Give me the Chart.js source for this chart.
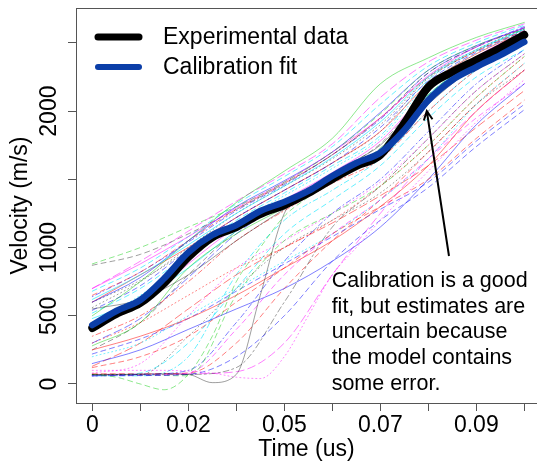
<!DOCTYPE html>
<html>
<head>
<meta charset="utf-8">
<script src="https://cdn.jsdelivr.net/npm/chart.js@4.4.1/dist/chart.umd.min.js"></script>
<style>
  html, body { margin: 0; padding: 0; background: #fff; overflow: hidden; }
  #wrap { width: 537px; height: 463px; }
</style>
</head>
<body>
<div id="wrap"><canvas id="chart" width="537" height="463"></canvas></div>
<script>
// time grids (us)
const timeFine = [0, 0.005625, 0.01125, 0.016875, 0.0225, 0.028125, 0.03375, 0.039375, 0.045, 0.050625,
  0.05625, 0.061875, 0.0675, 0.073125, 0.07875, 0.084375, 0.09, 0.095625, 0.10125];
const timeCoarse = [0, 0.01125, 0.0225, 0.03375, 0.045, 0.05625, 0.0675, 0.07875, 0.09, 0.10125];

// axis ticks
const xTicks = [0, 0.01125, 0.0225, 0.03375, 0.045, 0.05625, 0.0675, 0.07875, 0.09, 0.10125];
const xTickLabels = ["0", "", "0.02", "", "0.05", "", "0.07", "", "0.09", ""];
const yTicks = [0, 500, 1000, 1500, 2000, 2500];
const yTickLabels = ["0", "500", "1000", "", "2000", ""];

// main curves (fine grid, m/s)
const experimental = [410, 513, 594, 740, 930, 1075, 1150, 1246, 1312, 1400, 1503, 1598, 1678, 1910, 2177, 2287, 2375, 2463, 2558];
const calibration = [432, 535, 616, 775, 965, 1092, 1165, 1268, 1334, 1415, 1524, 1620, 1695, 1860, 2080, 2228, 2323, 2411, 2507];

// model runs (fine grid if 19 values, coarse grid if 10)
const sampleValues = [
  [70, 70, 72, 75, 70, 10, 70, 650, 1250, 1420, 1530, 1640, 1750, 1930, 2110, 2240, 2350, 2450, 2540],
  [70, 50, 0, -42, 70, 350, 750, 1000, 1230, 1370, 1500, 1610, 1730, 1920, 2120, 2260, 2380, 2480, 2570],
  [100, 100, 100, 100, 95, 80, 50, 40, 200, 500, 800, 1000, 1200, 1380, 1560, 1740, 1920, 2080, 2230],
  [60, 62, 70, 200, 500, 900, 1200, 1440, 1740, 2010],
  [120, 200, 350, 600, 850, 1100, 1300, 1500, 1800, 2080],
  [150, 250, 400, 550, 700, 900, 1150, 1500, 1900, 2200],
  [250, 350, 480, 650, 850, 1050, 1300, 1600, 2000, 2300],
  [200, 300, 500, 700, 900, 1100, 1350, 1650, 2050, 2350],
  [60, 65, 80, 400, 800, 1100, 1350, 1650, 1950, 2200],
  [70, 70, 350, 700, 1000, 1200, 1400, 1700, 2050, 2300],
  [300, 450, 650, 850, 1000, 1200, 1450, 1750, 2100, 2400],
  [65, 65, 60, 650, 1050, 1250, 1450, 1750, 2100, 2400],
  [60, 70, 100, 450, 900, 1250, 1500, 1850, 2200, 2450],
  [80, 150, 500, 850, 1050, 1250, 1480, 1800, 2150, 2420],
  [60, 80, 300, 700, 1100, 1350, 1600, 1950, 2250, 2450],
  [130, 300, 550, 800, 1000, 1180, 1380, 1600, 1880, 2150],
  [220, 330, 480, 680, 880, 1080, 1280, 1480, 1780, 2050],
  [550, 620, 800, 1050, 1280, 1480, 1680, 2050, 2330, 2520],
  [280, 450, 850, 1100, 1290, 1480, 1700, 2100, 2350, 2530],
  [480, 620, 850, 1120, 1320, 1520, 1720, 2120, 2370, 2560],
  [350, 500, 750, 1050, 1270, 1470, 1650, 2000, 2300, 2500],
  [300, 480, 780, 1100, 1330, 1520, 1720, 2080, 2360, 2550],
  [420, 580, 880, 1150, 1350, 1550, 1780, 2150, 2400, 2580],
  [250, 450, 800, 1120, 1340, 1540, 1760, 2150, 2390, 2570],
  [880, 1000, 1150, 1300, 1480, 1700, 1980, 2300, 2480, 2600],
  [700, 880, 1080, 1290, 1480, 1700, 1950, 2260, 2470, 2610],
  [620, 800, 1020, 1250, 1450, 1660, 1920, 2250, 2450, 2600],
  [600, 780, 1050, 1300, 1490, 1700, 1990, 2300, 2480, 2610],
  [870, 950, 1100, 1280, 1470, 1680, 1950, 2280, 2470, 2610],
  [500, 750, 1050, 1330, 1560, 1800, 2200, 2390, 2540, 2650],
  [650, 820, 1050, 1280, 1470, 1680, 1950, 2250, 2440, 2590],
  [560, 750, 1000, 1250, 1450, 1650, 1900, 2240, 2440, 2600],
  [680, 850, 1080, 1320, 1520, 1740, 2050, 2330, 2500, 2630],
  [540, 720, 980, 1220, 1420, 1620, 1880, 2220, 2430, 2590],
  [700, 900, 1120, 1340, 1540, 1760, 2100, 2360, 2520, 2640],
  [600, 800, 1000, 1220, 1420, 1620, 1850, 2200, 2420, 2580],
  [65, 68, 70, 120, 600, 1150, 1450, 1800, 2150, 2420],
  [75, 75, 80, 300, 700, 1050, 1350, 1700, 2050, 2350],
  [60, 60, 200, 800, 1200, 1420, 1650, 2000, 2300, 2500],
  [70, 72, 75, 90, 300, 800, 1250, 1650, 2000, 2300],
  [520, 700, 950, 1200, 1400, 1600, 1820, 2230, 2440, 2600],
  [600, 760, 980, 1220, 1420, 1620, 1850, 2250, 2450, 2610],
  [450, 650, 920, 1180, 1380, 1580, 1800, 2200, 2420, 2590],
  [640, 820, 1040, 1270, 1460, 1680, 1940, 2280, 2470, 2620]
];
const sampleColorKeys = ["k", "g", "m", "b", "r", "b", "r", "c", "m", "k", "r", "g", "b", "m", "c", "r", "b", "k", "g", "c",
  "r", "b", "m", "k", "g", "m", "c", "b", "k", "g", "r", "k", "c", "b", "m", "r", "k", "r", "c", "m",
  "c", "k", "c", "b"];
const sampleDashKeys = ["solid", "dashed", "dotted", "dashed", "dashed", "solid", "solid", "dotted", "dashed", "dotted",
  "dotted", "dashed", "dotdash", "dotted", "dashed", "longdash", "dashed", "solid", "solid", "solid",
  "dotdash", "longdash", "solid", "dashed", "dashed", "solid", "solid", "solid", "dashed", "solid",
  "dashed", "dotted", "dashed", "dashed", "longdash", "solid", "twodash", "dashed", "dotdash", "longdash",
  "dashed", "dotted", "dotted", "dotdash"];

const palette = {
  k: "rgba(0,0,0,0.38)", r: "rgba(255,0,0,0.5)", g: "rgba(0,205,0,0.45)",
  b: "rgba(0,0,255,0.5)", c: "rgba(0,230,255,0.6)", m: "rgba(255,0,255,0.5)"
};
const dashes = {
  solid: [], dashed: [5, 4], dotted: [1, 3], dotdash: [1, 3, 5, 3], longdash: [8, 4], twodash: [2, 3, 6, 3]
};

const FONT = "'Liberation Sans', Arial, Helvetica, sans-serif";

function toPoints(values) {
  const t = values.length === timeFine.length ? timeFine : timeCoarse;
  return values.map((v, i) => ({ x: t[i], y: v }));
}

const datasets = [
  { label: "Calibration fit", data: toPoints(calibration), borderColor: "#0b3ea8", borderWidth: 6.5 },
  { label: "Experimental data", data: toPoints(experimental), borderColor: "#000", borderWidth: 8 }
];
sampleValues.forEach((vals, i) => {
  datasets.push({
    label: "run " + (i + 1),
    data: toPoints(vals),
    borderColor: palette[sampleColorKeys[i]],
    borderDash: dashes[sampleDashKeys[i]],
    borderWidth: 1
  });
});

// legend, box top and the arrow note
const notes = {
  id: "notes",
  afterDraw(chart) {
    const { ctx, chartArea: a, scales: { x, y } } = chart;
    ctx.save();
    ctx.strokeStyle = "#555";
    ctx.lineWidth = 1;
    ctx.beginPath();
    ctx.moveTo(a.left, a.top + 0.5);
    ctx.lineTo(a.right, a.top + 0.5);
    ctx.stroke();

    // legend
    const items = [["Experimental data", "#000", 7, 29], ["Calibration fit", "#0b3ea8", 6, 59]];
    ctx.lineCap = "round";
    ctx.font = "23px " + FONT;
    ctx.textBaseline = "middle";
    ctx.fillStyle = "#000";
    items.forEach(([txt, col, w, dy]) => {
      ctx.strokeStyle = col;
      ctx.lineWidth = w;
      ctx.beginPath();
      ctx.moveTo(a.left + 22, a.top + dy);
      ctx.lineTo(a.left + 63, a.top + dy);
      ctx.stroke();
      ctx.fillText(txt, a.left + 87, a.top + dy + 1);
    });

    // note text
    const lines = ["Calibration is a good", "fit, but estimates are", "uncertain because", "the model contains", "some error."];
    ctx.font = "21.5px " + FONT;
    ctx.textBaseline = "alphabetic";
    const tx = x.getPixelForValue(0.0561);
    const ty = y.getPixelForValue(711);
    lines.forEach((l, i) => ctx.fillText(l, tx, ty + i * 25.7));

    // arrow
    const x0 = x.getPixelForValue(0.0836), y0 = y.getPixelForValue(938);
    const x1 = x.getPixelForValue(0.0784), y1 = y.getPixelForValue(2001);
    ctx.strokeStyle = "#000";
    ctx.lineWidth = 2;
    ctx.lineCap = "butt";
    ctx.beginPath();
    ctx.moveTo(x0, y0);
    ctx.lineTo(x1, y1);
    const ang = Math.atan2(y1 - y0, x1 - x0);
    const len = 10;
    ctx.moveTo(x1 - len * Math.cos(ang - 0.45), y1 - len * Math.sin(ang - 0.45));
    ctx.lineTo(x1, y1);
    ctx.lineTo(x1 - len * Math.cos(ang + 0.45), y1 - len * Math.sin(ang + 0.45));
    ctx.stroke();
    ctx.restore();
  }
};

new Chart(document.getElementById("chart").getContext("2d"), {
  type: "line",
  data: { datasets },
  options: {
    responsive: false,
    animation: false,
    events: [],
    layout: { padding: { top: 8, left: 0, right: 0, bottom: 0 } },
    elements: {
      point: { radius: 0 },
      line: { cubicInterpolationMode: "monotone", borderCapStyle: "round", borderJoinStyle: "round", fill: false }
    },
    plugins: { legend: { display: false }, tooltip: { enabled: false } },
    scales: {
      x: {
        type: "linear",
        min: -0.00382,
        max: 0.10423,
        afterBuildTicks: (s) => { s.ticks = xTicks.map((v) => ({ value: v })); },
        afterFit: (s) => { s.height = 60; s.paddingLeft = 0; s.paddingRight = 0; },
        ticks: {
          autoSkip: false, maxRotation: 0, padding: 1, color: "#000",
          font: { family: FONT, size: 23 },
          callback: (v, i) => xTickLabels[i]
        },
        grid: { drawOnChartArea: false, tickLength: 8, color: "#555" },
        border: { color: "#555" },
        title: { display: true, text: "Time (us)", color: "#000", font: { family: FONT, size: 23 }, padding: { top: 0, bottom: 0 } }
      },
      y: {
        min: -139.3,
        max: 2755.8,
        afterBuildTicks: (s) => { s.ticks = yTicks.map((v) => ({ value: v })); },
        afterFit: (s) => { s.width = 76; s.paddingTop = 0; s.paddingBottom = 0; },
        ticks: {
          autoSkip: false, minRotation: 90, maxRotation: 90, crossAlign: "center", padding: -7.5, color: "#000",
          font: { family: FONT, size: 23 },
          callback: (v, i) => yTickLabels[i]
        },
        grid: { drawOnChartArea: false, tickLength: 8, color: "#555" },
        border: { color: "#555" },
        title: { display: true, text: "Velocity (m/s)", color: "#000", font: { family: FONT, size: 23 }, padding: { top: 7, bottom: 0 } }
      }
    }
  },
  plugins: [notes]
});
</script>
</body>
</html>
